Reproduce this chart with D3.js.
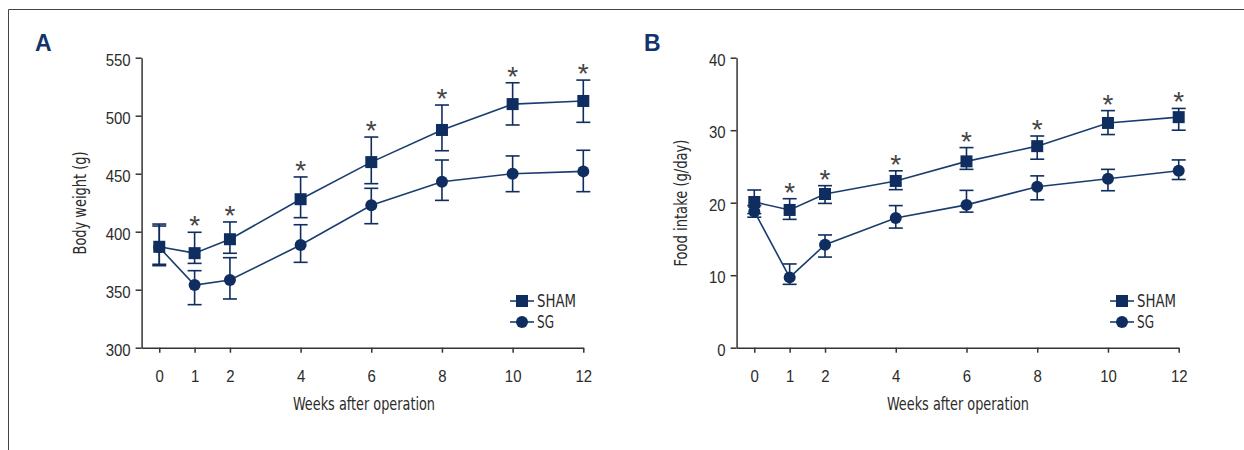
<!DOCTYPE html>
<html>
<head>
<meta charset="utf-8">
<script src="https://cdn.jsdelivr.net/npm/d3@7"></script>
<style>
  body { margin: 0; background: #fff; }
  svg { font-family: 'Liberation Sans Narrow', 'DejaVu Sans Condensed', 'Roboto Condensed', sans-serif; }
  .axis path, .axis line { stroke: #333; stroke-width: 1.5; }
  .axis text { font-size: 17px; fill: #2b2b2b; }
  .axis-title { font-size: 17px; fill: #2b2b2b; }
  .panel-letter { font-family: 'Liberation Sans', Arial, sans-serif; font-weight: bold; font-size: 23px; fill: #13336b; }
  .star { font-family: 'Liberation Sans', Arial, sans-serif; font-size: 28px; fill: #444; }
  .legend-label { font-size: 17px; fill: #2b2b2b; }
</style>
</head>
<body>
<svg id="chart" width="1244" height="450"></svg>
<script>
// x values (weeks after operation)
const weeks = [0, 1, 2, 4, 6, 8, 10, 12];
const sigWeeks = [1, 2, 4, 6, 8, 10, 12];

// Panel A: body weight (g), mean with upper / lower end of error bar
const weightSham = [387, 381.5, 393.5, 428, 460, 487.7, 510, 512.7];
const weightShamHi = [406.6, 399.5, 408.4, 447.2, 481.6, 509.2, 528.4, 530.7];
const weightShamLo = [370.7, 372.7, 381.4, 412.1, 441.4, 469.8, 492, 494.3];
const weightSg = [386.5, 354, 358.4, 388.5, 422.8, 443.1, 450, 452];
const weightSgHi = [404.9, 366.4, 377.6, 406, 437.4, 461.8, 465.3, 470.2];
const weightSgLo = [371.9, 337.1, 342, 373.6, 406.9, 427, 434.5, 434.5];
const weightTicks = [300, 350, 400, 450, 500, 550];

// Panel B: food intake (g/day)
const foodSham = [20.1, 19.0, 21.2, 23.0, 25.7, 27.8, 31.0, 31.8];
const foodShamHi = [21.75, 20.55, 22.35, 24.4, 27.6, 29.2, 32.7, 33.0];
const foodShamLo = [18.5, 17.7, 19.9, 21.8, 24.6, 26.0, 29.4, 30.0];
const foodSg = [18.8, 9.7, 14.2, 17.9, 19.7, 22.2, 23.3, 24.4];
const foodSgHi = [19.6, 11.55, 15.55, 19.6, 21.7, 23.7, 24.6, 25.9];
const foodSgLo = [18.0, 8.74, 12.5, 16.5, 18.7, 20.4, 21.65, 23.2];
const foodTicks = [0, 10, 20, 30, 40];

const navy = '#0f2d5f';
const lineColor = '#1a3d70';
const squeeze = 0.88; // fallback font is wider than the original condensed face

function makeSeries(mean, hi, lo) {
  return weeks.map((w, i) => ({ week: w, mean: mean[i], hi: hi[i], lo: lo[i] }));
}

class LinePanel {
  constructor(_config, _data) {
    this.config = _config;
    this.data = _data;
    this.initVis();
  }

  initVis() {
    let vis = this;
    let c = vis.config;

    vis.svg = d3.select(c.parentElement);
    vis.chart = vis.svg.append('g');

    vis.xScale = d3.scaleLinear().domain([-0.5, 12]).range([c.left, c.right]);
    vis.yScale = d3.scaleLinear().domain(c.yDomain).range([c.bottom, c.top]);

    vis.xAxis = d3.axisBottom(vis.xScale)
      .tickValues(weeks)
      .tickSize(5)
      .tickSizeOuter(0)
      .tickPadding(17);

    vis.yAxis = d3.axisLeft(vis.yScale)
      .tickValues(c.yTicks)
      .tickSize(6)
      .tickSizeOuter(0)
      .tickPadding(5);

    vis.xAxisG = vis.chart.append('g')
      .attr('class', 'axis x-axis')
      .attr('transform', `translate(0,${c.bottom})`)
      .call(vis.xAxis);
    vis.xAxisG.selectAll('text')
      .attr('transform', `scale(${squeeze},1)`);

    vis.yAxisG = vis.chart.append('g')
      .attr('class', 'axis y-axis')
      .attr('transform', `translate(${c.left},0)`)
      .call(vis.yAxis);
    vis.yAxisG.selectAll('text')
      .attr('x', 0)
      .attr('dy', '0.45em')
      .attr('transform', `translate(-11,0) scale(${squeeze},1)`);

    // axis titles
    vis.chart.append('text')
      .attr('class', 'axis-title')
      .attr('x', c.xTitleX - 71)
      .attr('y', 410)
      .attr('textLength', 142)
      .attr('lengthAdjust', 'spacingAndGlyphs')
      .text('Weeks after operation');

    vis.chart.append('text')
      .attr('class', 'axis-title')
      .attr('transform', `translate(${c.yTitleX},${203 + c.yTitleLen / 2}) rotate(-90)`)
      .attr('textLength', c.yTitleLen)
      .attr('lengthAdjust', 'spacingAndGlyphs')
      .text(c.yTitle);

    // panel letter
    vis.chart.append('text')
      .attr('class', 'panel-letter')
      .attr('x', c.letterX)
      .attr('y', 51)
      .text(c.letter);

    vis.renderVis();
    vis.renderLegend();
  }

  renderVis() {
    let vis = this;
    let x = vis.xScale, y = vis.yScale;
    let capW = 7;

    let line = d3.line().x(d => x(d.week)).y(d => y(d.mean));

    let groups = [
      { key: 'sg', values: vis.data.sg },
      { key: 'sham', values: vis.data.sham },
    ];

    // error bars
    groups.forEach(g => {
      let eb = vis.chart.append('g').attr('class', 'errorbars-' + g.key)
        .attr('stroke', navy)
        .attr('stroke-width', 1.6);
      eb.selectAll('.stem').data(g.values).join('line')
        .attr('x1', d => x(d.week)).attr('x2', d => x(d.week))
        .attr('y1', d => y(d.hi)).attr('y2', d => y(d.lo));
      eb.selectAll('.cap-hi').data(g.values).join('line')
        .attr('class', 'cap-hi')
        .attr('x1', d => x(d.week) - capW).attr('x2', d => x(d.week) + capW)
        .attr('y1', d => y(d.hi)).attr('y2', d => y(d.hi));
      eb.selectAll('.cap-lo').data(g.values).join('line')
        .attr('class', 'cap-lo')
        .attr('x1', d => x(d.week) - capW).attr('x2', d => x(d.week) + capW)
        .attr('y1', d => y(d.lo)).attr('y2', d => y(d.lo));
    });

    // lines
    groups.forEach(g => {
      vis.chart.append('path')
        .datum(g.values)
        .attr('fill', 'none')
        .attr('stroke', lineColor)
        .attr('stroke-width', 1.6)
        .attr('d', line);
    });

    // markers
    vis.chart.selectAll('.dot-sg').data(vis.data.sg).join('circle')
      .attr('class', 'dot-sg')
      .attr('cx', d => x(d.week))
      .attr('cy', d => y(d.mean))
      .attr('r', 6)
      .attr('fill', navy);

    vis.chart.selectAll('.dot-sham').data(vis.data.sham).join('rect')
      .attr('class', 'dot-sham')
      .attr('x', d => x(d.week) - 6)
      .attr('y', d => y(d.mean) - 6)
      .attr('width', 12)
      .attr('height', 12)
      .attr('fill', navy);

    // significance stars above SHAM error bars
    let sig = vis.data.sham.filter(d => sigWeeks.includes(d.week));
    vis.chart.selectAll('.star').data(sig).join('text')
      .attr('class', 'star')
      .attr('x', d => x(d.week))
      .attr('y', d => y(d.hi) - 13 + 16)
      .attr('text-anchor', 'middle')
      .text('*');
  }

  renderLegend() {
    let vis = this;
    let c = vis.config;
    let legend = vis.chart.append('g').attr('transform', `translate(${c.legendX},0)`);
    let items = [
      { label: 'SHAM', y: 301, shape: 'square', w: 39 },
      { label: 'SG', y: 322, shape: 'circle', w: 17 },
    ];
    items.forEach(it => {
      legend.append('line')
        .attr('x1', -12).attr('x2', 12)
        .attr('y1', it.y).attr('y2', it.y)
        .attr('stroke', lineColor)
        .attr('stroke-width', 1.6);
      if (it.shape === 'square') {
        legend.append('rect')
          .attr('x', -6).attr('y', it.y - 6)
          .attr('width', 12).attr('height', 12)
          .attr('fill', navy);
      } else {
        legend.append('circle')
          .attr('cx', 0).attr('cy', it.y)
          .attr('r', 6)
          .attr('fill', navy);
      }
      legend.append('text')
        .attr('class', 'legend-label')
        .attr('x', 15)
        .attr('y', it.y + 6)
        .attr('textLength', it.w)
        .attr('lengthAdjust', 'spacingAndGlyphs')
        .text(it.label);
    });
  }
}

// frame
const svg = d3.select('#chart');
svg.append('path')
  .attr('d', 'M8.5,450 V9.5 H1244')
  .attr('fill', 'none')
  .attr('stroke', '#444')
  .attr('stroke-width', 1);

new LinePanel({
  parentElement: '#chart',
  left: 141.6, right: 583.3, top: 57.7, bottom: 347.7,
  yDomain: [300, 550], yTicks: weightTicks,
  yTitle: 'Body weight (g)', yTitleX: 86, yTitleLen: 103, xTitleX: 364,
  letter: 'A', letterX: 35, legendX: 522,
}, {
  sham: makeSeries(weightSham, weightShamHi, weightShamLo),
  sg: makeSeries(weightSg, weightSgHi, weightSgLo),
});

new LinePanel({
  parentElement: '#chart',
  left: 736.6, right: 1178.7, top: 57.7, bottom: 347.7,
  yDomain: [0, 40], yTicks: foodTicks,
  yTitle: 'Food intake (g/day)', yTitleX: 687, yTitleLen: 127, xTitleX: 958,
  letter: 'B', letterX: 644, legendX: 1122,
}, {
  sham: makeSeries(foodSham, foodShamHi, foodShamLo),
  sg: makeSeries(foodSg, foodSgHi, foodSgLo),
});
</script>
</body>
</html>
